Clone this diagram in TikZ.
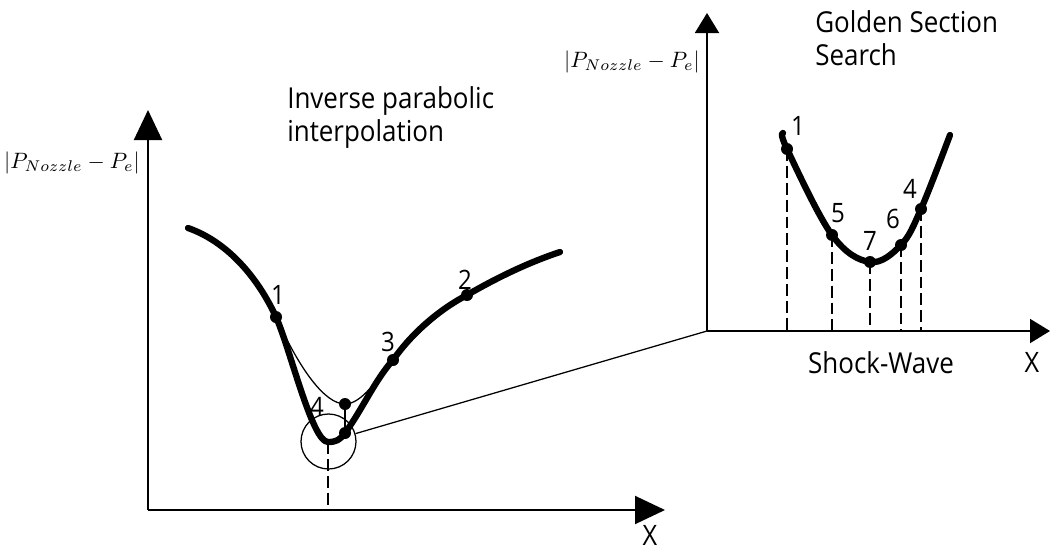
\documentclass[tikz,border=0pt]{standalone}
\usepackage{fontspec}
\setmainfont{Open Sans}[FakeStretch=0.9]
\usepackage{tikz}
\usetikzlibrary{arrows.meta,positioning}

\tikzset{
  axisline/.style={line width=1.4pt,-{Triangle[length=0.75cm,width=0.7cm]}},
  axissmall/.style={line width=1.4pt,-{Triangle[length=0.5cm,width=0.6cm]}},
  bigcurve/.style={line width=4.5pt,line cap=round,line join=round},
  thincurve/.style={line width=0.9pt},
  dropline/.style={line width=1pt,dash pattern=on 8.5pt off 3.5pt},
  ptlabel/.style={font=\fontsize{19}{22}\selectfont,inner sep=0pt},
  title/.style={font=\fontsize{20.5}{23.5}\selectfont,align=left,inner sep=0pt},
  mathlabel/.style={scale=1.58,inner sep=0pt}
}

\begin{document}
\begin{tikzpicture}[x=0.025cm,y=-0.025cm]
				\useasboundingbox (0,0) rectangle (1051,552);
				% left axes
				\coordinate (lo) at (148,510);
				\coordinate (ly) at (148,110);
				\coordinate (lx) at (665,510);
				\draw[axisline](lo)--(ly);
				\draw[axisline](lo)--(lx);
				\node[mathlabel] (lylab) at (72,163){$|P_{Nozzle}-P_e|$};
				\node[ptlabel,font=\fontsize{20}{22}\selectfont] (lxlab) at (650,535){X};
				\node[title,anchor=north west] (ipi) at (287,86){Inverse parabolic\\interpolation};
				% left curve points
				\coordinate (a1) at (276,317);
				\coordinate (a2) at (467,295);
				\coordinate (a3) at (393,360);
				\coordinate (a4) at (345,433);
				\coordinate (a4t) at (345,404);
				\coordinate (amin) at (328,442);
				\draw[bigcurve] (188,228) .. controls (228,242) and (258,278) .. (a1)
				.. controls (290,348) and (312,442) .. (amin)
				.. controls (336,442) and (340,440) .. (a4)
				.. controls (362,410) and (375,380) .. (a3)
				.. controls (410,336) and (435,312) .. (a2)
				.. controls (500,276) and (530,262) .. (560,252);
				\draw[thincurve] (a1) .. controls (300,370) and (325,404) .. (a4t)
				.. controls (362,404) and (378,378) .. (a3)
				.. controls (410,340) and (438,314) .. (a2);
				\foreach \p in {a1,a2,a3,a4,a4t}
				\fill (\p) circle (6);
				\draw[thincurve](a4t)--(a4);
				\node[draw,circle,line width=0.9pt,minimum size=1.375cm,inner sep=0pt] (zoomc) at (328.5,441.5){};
				\draw[dropline](amin)--(amin |- lo);
				\node[ptlabel] (al1) at (278,295){1};
				\node[ptlabel] (al2) at (465,280){2};
				\node[ptlabel] (al3) at (388,342){3};
				\node[ptlabel] (al4) at (317,407){4};
				% right axes
				\coordinate (ro) at (707,331);
				\coordinate (ry) at (707,13);
				\coordinate (rx) at (1050,331);
				\draw[thincurve](zoomc)--(ro);
				\draw[axissmall](ro)--(ry);
				\draw[axissmall](ro)--(rx);
				\node[mathlabel] (rylab) at (632,62){$|P_{Nozzle}-P_e|$};
				\node[ptlabel,font=\fontsize{20}{22}\selectfont] (rxlab) at (1032,362){X};
				\node[title] (sw) at (881,363){Shock-Wave};
				\node[title,anchor=north west] (gss) at (815,10){Golden Section\\Search};
				% right curve points
				\coordinate (b1) at (787,149);
				\coordinate (b5) at (832,235);
				\coordinate (b7) at (870,262);
				\coordinate (b6) at (901,245);
				\coordinate (b4) at (921,209);
				\draw[bigcurve] plot[smooth,tension=0.6] coordinates
				{(783,133) (b1) (b5) (b7) (b6) (b4) (950,135)};
				\foreach \p in {b1,b5,b7,b6,b4}{
				\fill (\p) circle (6);
				\draw[dropline](\p)--(\p |- ro);}
				\node[ptlabel] (bl1) at (798,126){1};
				\node[ptlabel] (bl5) at (838,213){5};
				\node[ptlabel] (bl7) at (870,241){7};
				\node[ptlabel] (bl6) at (893,219){6};
				\node[ptlabel] (bl4) at (910,189){4};
			\end{tikzpicture}
\end{document}
